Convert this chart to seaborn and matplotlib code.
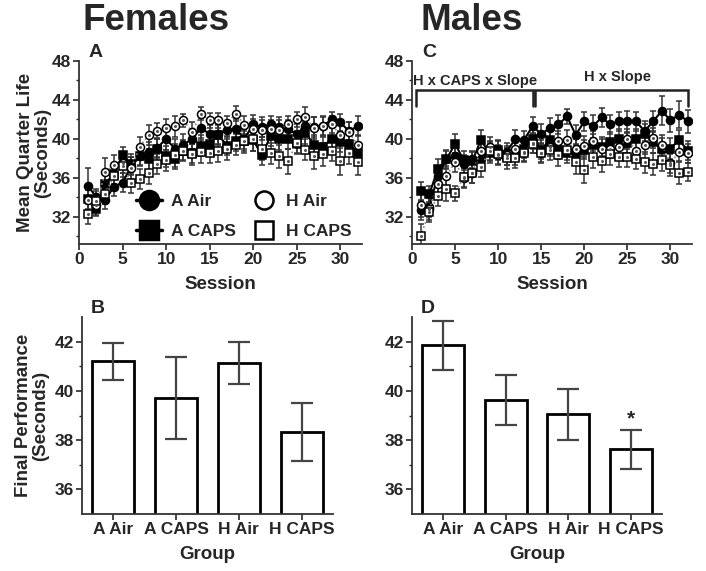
import numpy as np
import pandas as pd
import matplotlib
matplotlib.use("Agg")
import matplotlib.pyplot as plt
from matplotlib.lines import Line2D
import seaborn as sns

# ---------------- data ----------------
sessions = list(range(1, 33))
groups = ["A Air", "A CAPS", "H Air", "H CAPS"]

# Females, panel A
fA_air = [35.2, 34.0, 33.7, 35.1, 35.5, 37.2, 38.2, 38.7, 39.1, 40.0, 39.0, 39.4, 40.0, 41.1, 40.5, 40.5,
          40.9, 41.0, 40.0, 41.5, 41.2, 41.5, 41.2, 41.0, 40.5, 41.3, 41.2, 41.3, 42.0, 41.7, 40.8, 41.3]
fA_caps = [33.8, 32.8, 35.4, 36.4, 38.3, 37.4, 38.2, 37.9, 39.0, 38.2, 37.9, 38.8, 38.5, 39.3, 39.5, 40.4,
           39.3, 39.8, 39.8, 39.9, 38.3, 40.3, 40.0, 40.0, 39.5, 40.6, 39.4, 39.2, 40.0, 39.7, 39.5, 38.5]
fH_air = [33.7, 33.2, 36.6, 37.3, 37.5, 37.0, 39.2, 40.4, 40.8, 41.1, 41.3, 41.9, 40.7, 42.6, 41.9, 41.9,
          41.6, 42.6, 41.4, 41.0, 40.9, 41.0, 40.9, 41.5, 42.0, 42.2, 41.1, 41.3, 41.5, 40.4, 40.7, 39.4]
fH_caps = [32.3, 33.6, 34.3, 36.2, 37.2, 35.5, 35.9, 36.5, 37.4, 37.8, 38.3, 38.8, 38.4, 38.7, 38.6, 38.8,
           39.0, 39.4, 39.8, 40.0, 39.0, 38.5, 38.2, 37.7, 39.6, 38.9, 38.2, 38.4, 38.8, 37.7, 38.6, 37.6]
fA_air_sem = [1.8, 0.8, 0.9, 1.0, 1.0, 0.9, 0.9, 1.0, 1.0, 1.1, 1.0, 1.1, 1.0, 1.0, 0.9, 1.0,
              0.9, 1.0, 1.0, 1.0, 1.0, 0.9, 1.0, 0.9, 1.0, 1.0, 1.0, 0.9, 0.8, 0.9, 0.9, 1.0]
fA_caps_sem = [1.0, 0.7, 0.9, 1.0, 0.9, 1.0, 1.0, 1.1, 1.0, 1.1, 1.0, 1.0, 1.0, 1.1, 1.0, 1.0,
               1.0, 1.0, 1.0, 1.1, 1.0, 1.0, 1.1, 1.0, 1.0, 1.1, 1.0, 1.0, 1.1, 1.0, 1.0, 1.1]
fH_air_sem = [1.0, 1.0, 1.4, 1.0, 1.0, 1.1, 1.0, 1.0, 0.8, 0.9, 1.1, 0.7, 1.0, 0.7, 0.8, 0.8,
              0.8, 0.8, 0.9, 1.0, 1.0, 0.9, 1.0, 0.8, 0.8, 1.1, 1.1, 1.0, 0.9, 1.0, 1.0, 1.0]
fH_caps_sem = [1.0, 1.0, 1.0, 1.2, 1.1, 1.1, 1.0, 1.1, 1.0, 1.1, 1.2, 1.1, 1.1, 1.2, 1.1, 1.2,
               1.2, 1.1, 1.2, 1.2, 1.2, 1.1, 1.2, 1.3, 1.2, 1.1, 1.3, 1.2, 1.1, 1.4, 1.2, 1.3]

# Males, panel C
mA_air = [32.7, 33.0, 36.2, 37.9, 38.2, 37.4, 37.9, 37.9, 38.7, 38.8, 38.7, 40.0, 39.9, 41.3, 40.5, 41.1,
          41.5, 42.3, 40.4, 41.8, 41.3, 42.2, 41.5, 41.8, 41.8, 41.8, 40.8, 41.8, 42.9, 41.9, 42.5, 41.8]
mA_caps = [34.6, 34.3, 36.9, 37.9, 39.5, 37.8, 37.7, 39.9, 38.5, 38.9, 38.2, 38.2, 39.0, 40.0, 38.9, 39.9,
           38.9, 38.5, 38.5, 38.9, 39.4, 39.2, 39.7, 40.0, 39.6, 40.0, 40.5, 39.7, 39.0, 39.0, 39.9, 38.8]
mH_air = [33.2, 32.8, 35.4, 36.2, 37.6, 36.0, 36.5, 38.8, 39.2, 38.3, 38.3, 39.0, 38.7, 39.6, 38.6, 39.2,
          39.8, 39.9, 39.0, 39.3, 39.8, 39.0, 39.0, 39.2, 40.0, 38.8, 39.4, 40.1, 39.4, 37.5, 38.7, 38.5]
mH_caps = [30.0, 32.5, 34.1, 34.8, 34.4, 36.1, 36.5, 37.1, 38.8, 38.4, 38.0, 38.0, 38.6, 39.5, 38.5, 38.9,
           38.3, 38.9, 37.6, 36.8, 38.1, 37.7, 38.4, 38.1, 38.1, 37.9, 37.6, 37.4, 37.8, 37.3, 36.5, 36.6]
mA_air_sem = [1.0, 1.0, 1.0, 0.9, 1.0, 0.9, 0.9, 1.0, 1.0, 1.0, 0.9, 0.9, 0.9, 0.9, 1.0, 1.0,
              1.0, 0.8, 1.0, 1.0, 1.2, 1.0, 1.0, 1.0, 1.1, 1.0, 1.0, 1.1, 1.5, 1.2, 1.4, 1.2]
mA_caps_sem = [1.0, 0.9, 1.0, 1.0, 1.0, 1.0, 1.0, 1.0, 1.0, 1.0, 0.9, 0.9, 1.0, 1.0, 1.0, 1.0,
               1.0, 1.0, 1.0, 1.0, 1.1, 1.0, 1.0, 1.0, 1.0, 1.0, 1.0, 1.1, 1.1, 1.1, 1.0, 1.0]
mH_air_sem = [1.2, 1.1, 1.1, 1.0, 1.0, 1.0, 1.0, 1.0, 1.0, 1.0, 1.0, 1.0, 1.0, 1.0, 1.0, 1.0,
              1.0, 1.0, 1.0, 1.0, 1.0, 1.0, 1.0, 1.0, 1.0, 1.0, 1.0, 1.0, 1.0, 1.0, 1.0, 1.0]
mH_caps_sem = [1.3, 1.0, 1.0, 1.2, 0.8, 1.0, 1.0, 1.0, 1.0, 1.0, 1.1, 1.0, 1.0, 1.0, 1.0, 1.1,
               1.1, 1.1, 1.2, 1.3, 1.1, 1.1, 1.1, 1.0, 1.0, 1.0, 1.1, 1.1, 1.1, 1.1, 1.1, 0.9]

# Final performance bars
fem_final = [41.2, 39.7, 41.12, 38.32]
fem_final_sem = [0.76, 1.67, 0.86, 1.17]
male_final = [41.85, 39.63, 39.05, 37.62]
male_final_sem = [1.0, 1.0, 1.03, 0.8]

# ---------------- style ----------------
sns.set_theme(style="ticks")
plt.rcParams["font.family"] = ["Liberation Sans", "DejaVu Sans"]
plt.rcParams["font.weight"] = "bold"
plt.rcParams["axes.labelweight"] = "bold"

W, H = 706, 571
fig = plt.figure(figsize=(W / 100, H / 100), dpi=100)


def px_axes(left, top, right, bottom):
    return fig.add_axes([left / W, 1 - bottom / H, (right - left) / W, (bottom - top) / H])


axA = px_axes(79, 61, 362, 244)
axC = px_axes(412, 61, 692, 244)
axB = px_axes(82, 317, 333, 514)
axD = px_axes(412, 317, 662, 514)

series_style = {
    "A Air": dict(marker="o", mfc="black", ls="-", lc="black", lw=1.5),
    "A CAPS": dict(marker="s", mfc="black", ls="-", lc="black", lw=1.5),
    "H Air": dict(marker="o", mfc="white", ls=":", lc="#888888", lw=1.2),
    "H CAPS": dict(marker="s", mfc="white", ls=":", lc="#888888", lw=1.2),
}


def line_panel(ax, vals, sems):
    for g, v, e in zip(groups, vals, sems):
        st = series_style[g]
        ax.errorbar(sessions, v, yerr=e, fmt="none", ecolor="#333333", elinewidth=1.1,
                    capsize=2.2, capthick=1.1, zorder=2)
        sns.lineplot(x=sessions, y=v, ax=ax, color=st["lc"], linestyle=st["ls"],
                     linewidth=st["lw"], marker=st["marker"], markersize=5.8,
                     markerfacecolor=st["mfc"], markeredgecolor="black",
                     markeredgewidth=1.1, errorbar=None, zorder=3)
        if st["mfc"] == "white":
            ax.plot(sessions, v, ls="none", marker="o", markersize=1.2, color="#555555", zorder=4)
    ax.set_xlim(0, 32.5)
    ax.set_ylim(29.2, 48)
    ax.set_xticks([0, 5, 10, 15, 20, 25, 30])
    ax.set_yticks([32, 36, 40, 44, 48])
    ax.set_yticks([30, 34, 38, 42, 46], minor=True)
    ax.set_xlabel("Session", fontsize=13.5, fontweight="bold", labelpad=6)
    ax.set_ylabel("")


line_panel(axA, [fA_air, fA_caps, fH_air, fH_caps],
           [fA_air_sem, fA_caps_sem, fH_air_sem, fH_caps_sem])
line_panel(axC, [mA_air, mA_caps, mH_air, mH_caps],
           [mA_air_sem, mA_caps_sem, mH_air_sem, mH_caps_sem])
axA.set_ylabel("Mean Quarter Life\n(Seconds)", fontsize=13.5, fontweight="bold", labelpad=0,
               linespacing=1.0)


def bar_panel(ax, vals, sems):
    df = pd.DataFrame({"Group": groups, "value": vals})
    sns.barplot(data=df, x="Group", y="value", ax=ax, color="white", edgecolor="black",
                linewidth=2, width=0.67, errorbar=None, zorder=2)
    ax.errorbar(range(len(groups)), vals, yerr=sems, fmt="none", ecolor="#444444",
                elinewidth=1.6, capsize=8, capthick=1.6, zorder=3)
    ax.set_ylim(35, 43)
    ax.set_xlim(-0.5, 3.5)
    ax.set_yticks([36, 38, 40, 42])
    ax.set_yticks([37, 39, 41], minor=True)
    ax.set_xlabel("Group", fontsize=13.5, fontweight="bold", labelpad=6)
    ax.set_ylabel("")


bar_panel(axB, fem_final, fem_final_sem)
bar_panel(axD, male_final, male_final_sem)
axB.set_ylabel("Final Performance\n(Seconds)", fontsize=13.5, fontweight="bold", labelpad=4,
               linespacing=1.0)
axD.text(3, male_final[3] + male_final_sem[3] + 0.05, "*", ha="center", va="bottom",
         fontsize=15, fontweight="bold")

for ax in (axA, axB, axC, axD):
    sns.despine(ax=ax)
    for s in ("left", "bottom"):
        ax.spines[s].set_linewidth(1.3)
        ax.spines[s].set_color("#333333")
    ax.tick_params(axis="both", which="major", labelsize=12.5, length=4, width=1.2, pad=2)
    ax.tick_params(axis="both", which="minor", length=2.5, width=1.0)
    for lab in ax.get_xticklabels() + ax.get_yticklabels():
        lab.set_fontweight("bold")

# bracket annotations in panel C
brackets = [(0.5, 14.0, "H x CAPS x Slope"), (14.3, 32.0, "H x Slope")]
for x0, x1, txt in brackets:
    axC.plot([x0, x0, x1, x1], [43.4, 45.0, 45.0, 43.4], color="#222222", lw=1.8,
             solid_joinstyle="miter", clip_on=False)
axC.text(7.3, 45.25, brackets[0][2], ha="center", va="bottom", fontsize=10.5, fontweight="bold")
axC.text(23.8, 45.6, brackets[1][2], ha="center", va="bottom", fontsize=10.5, fontweight="bold")

# panel letters
for ax, letter in ((axA, "A"), (axC, "C"), (axB, "B"), (axD, "D")):
    ax.text(0.035, 1.0, letter, transform=ax.transAxes, ha="left", va="bottom",
            fontsize=14, fontweight="bold")

# titles
fig.text(156 / W, 1 - 20 / H, "Females", ha="center", va="center", fontsize=26.5, fontweight="bold")
fig.text(472 / W, 1 - 20 / H, "Males", ha="center", va="center", fontsize=26.5, fontweight="bold")

# legend in panel A
handles = []
for g in groups:
    st = series_style[g]
    handles.append(Line2D([0], [0], color=st["lc"] if st["mfc"] == "black" else "none",
                          lw=2.5, ls="-", marker=st["marker"], markersize=13,
                          markerfacecolor=st["mfc"], markeredgecolor="black",
                          markeredgewidth=2.5 if st["mfc"] == "black" else 1.8))
fig.legend(handles, groups, loc="upper left", bbox_to_anchor=(136 / W, 1 - 194 / H), ncol=2,
           frameon=False, handlelength=1.5, handletextpad=0.5,
           columnspacing=0.9, labelspacing=0.85, borderpad=0, borderaxespad=0,
           prop={"weight": "bold", "size": 12.5})

fig.savefig("out.png", dpi=100)
